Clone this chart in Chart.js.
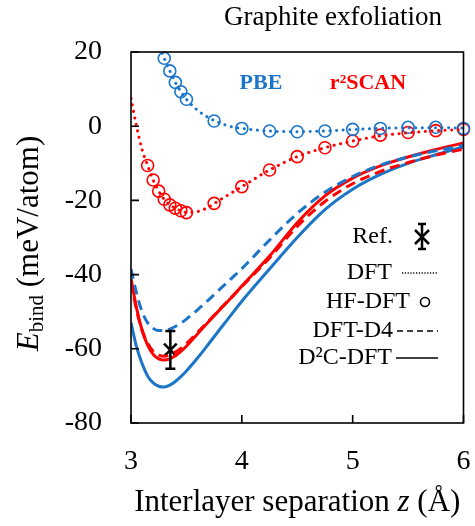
<!DOCTYPE html>
<html>
<head>
<meta charset="utf-8">
<script src="https://cdn.jsdelivr.net/npm/chart.js@4"></script>
<style>
  body { margin: 0; background: #fff; }
</style>
</head>
<body>
<canvas id="myChart" width="475" height="526"></canvas>
<script>
// interlayer separation z (Å) for the fitted curves
var zCurve = [3.0, 3.05, 3.1, 3.15, 3.2, 3.25, 3.3, 3.35, 3.4, 3.45, 3.5, 3.6, 3.7, 3.8, 3.9, 4.0, 4.25, 4.5, 4.75, 5.0, 5.25, 5.5, 5.75, 6.0];
// E_bind (meV/atom)
var pbeDFT  = [45, 40, 35, 30.5, 26.5, 22.2, 18.3, 14.9, 11.8, 9.3, 7.25, 4.3, 2.3, 0.9, -0.1, -0.6, -1.3, -1.5, -1.3, -0.9, -0.6, -0.4, -0.4, -0.5];
var scanDFT = [7.5, 0, -6.3, -10.6, -14.5, -17.5, -19.7, -21.2, -22.1, -22.8, -23.2, -23.0, -21.8, -19.9, -18.1, -16.3, -11.8, -8.2, -5.8, -4.0, -2.6, -1.8, -1.2, -0.9];
var pbeD4   = [-38.5, -45, -50, -53, -54.5, -55.1, -55.1, -54.7, -54, -53.1, -52, -49.5, -46.8, -44, -41.2, -38.4, -30.7, -23.5, -17.8, -13.6, -10.5, -8.3, -6.6, -5.2];
var scanD4  = [-42, -49.5, -55, -58.5, -60.7, -61.7, -62, -61.7, -60.9, -59.9, -58.6, -55.6, -52.5, -49.4, -46.3, -43.2, -35.5, -27, -20.3, -15.5, -12.2, -9.8, -7.8, -6.2];
var pbeD2C  = [-53, -59.5, -64, -67.3, -69.2, -70.1, -70.3, -69.8, -68.8, -67.5, -66, -62.5, -58.7, -54.8, -51, -47.2, -38.5, -30, -22.5, -17, -13, -10, -7.7, -5.6];
var scanD2C = [-41, -49, -55, -59, -61.5, -62.7, -63, -62.7, -61.9, -60.7, -59.3, -56, -52.7, -49.5, -46.4, -43.1, -35, -26, -18.8, -14, -10.7, -8.3, -6.3, -4.5];

// HF-DFT points (circles)
var zPbeHF  = [3.3, 3.35, 3.4, 3.45, 3.5, 3.75, 4.0, 4.25, 4.5, 4.75, 5.0, 5.25, 5.5, 5.75, 6.0];
var pbeHF   = [18.3, 14.9, 11.8, 9.3, 7.25, 1.4, -0.6, -1.3, -1.5, -1.3, -0.85, -0.6, -0.3, -0.3, -0.6];
var zScanHF = [3.15, 3.2, 3.25, 3.3, 3.35, 3.4, 3.45, 3.5, 3.75, 4.0, 4.25, 4.5, 4.75, 5.0, 5.25, 5.5, 5.75, 6.0];
var scanHF  = [-10.6, -14.5, -17.5, -19.7, -21.2, -22.1, -22.8, -23.3, -20.8, -16.3, -11.8, -8.2, -5.8, -4.0, -2.4, -1.7, -1.2, -0.85];

// reference value with error bar
var refZ = [3.355];
var refE = [-60.3];
var refErr = [5.1];

var xTicks = [3, 4, 5, 6];
var yTicks = [-80, -60, -40, -20, 0, 20];

var BLUE = '#1b75c9';
var RED = '#ff0000';
var SERIF = "'Liberation Serif', 'Times New Roman', serif";

function pts(xs, ys) {
    return xs.map(function (x, i) { return { x: x, y: ys[i] }; });
}

function lineSet(ys, color, dash) {
    return {
        data: pts(zCurve, ys),
        showLine: true,
        borderColor: color,
        borderWidth: 3,
        borderDash: dash,
        borderCapStyle: dash && dash[0] < 1 ? 'round' : 'butt',
        pointRadius: 0,
        cubicInterpolationMode: 'monotone',
        fill: false
    };
}

function circleSet(xs, ys, color) {
    return {
        data: pts(xs, ys),
        showLine: false,
        pointStyle: 'circle',
        pointRadius: 6,
        borderWidth: 1.6,
        borderColor: color,
        backgroundColor: 'rgba(0,0,0,0)',
        clip: false
    };
}

function text(ctx, str, x, y, font, color, align) {
    ctx.font = font;
    ctx.fillStyle = color || '#000';
    ctx.textAlign = align || 'left';
    ctx.textBaseline = 'middle';
    ctx.fillText(str, x, y);
}

function errBar(ctx, x, y1, y2, cap) {
    ctx.beginPath();
    ctx.moveTo(x, y1); ctx.lineTo(x, y2);
    ctx.moveTo(x - cap, y1); ctx.lineTo(x + cap, y1);
    ctx.moveTo(x - cap, y2); ctx.lineTo(x + cap, y2);
    ctx.stroke();
}

var decor = {
    id: 'decor',
    afterDatasetsDraw: function (chart) {
        var ctx = chart.ctx, a = chart.chartArea;
        var xs = chart.scales.x, ys = chart.scales.y;
        ctx.save();
        ctx.strokeStyle = '#000';
        ctx.lineWidth = 1.6;
        ctx.strokeRect(a.left, a.top, a.right - a.left, a.bottom - a.top);
        // inward ticks
        ctx.beginPath();
        xTicks.forEach(function (v) {
            var px = xs.getPixelForValue(v);
            ctx.moveTo(px, a.bottom); ctx.lineTo(px, a.bottom - 8);
        });
        yTicks.forEach(function (v) {
            var py = ys.getPixelForValue(v);
            ctx.moveTo(a.left, py); ctx.lineTo(a.left + 8, py);
        });
        ctx.stroke();

        // error bar of the reference
        ctx.lineWidth = 2.5;
        refZ.forEach(function (z, i) {
            errBar(ctx, xs.getPixelForValue(z), ys.getPixelForValue(refE[i] + refErr[i]),
                ys.getPixelForValue(refE[i] - refErr[i]), 5);
        });

        // functional labels
        text(ctx, 'PBE', 261, 83, "bold 22px " + SERIF, BLUE, 'center');
        text(ctx, 'r²SCAN', 368, 83, "bold 22px " + SERIF, RED, 'center');

        // legend
        var lf = "24px " + SERIF;
        text(ctx, 'Ref.', 393, 237, lf, '#000', 'right');
        ctx.strokeStyle = '#000';
        ctx.lineWidth = 2.5;
        errBar(ctx, 422, 224, 249, 4);
        ctx.beginPath();
        ctx.moveTo(415, 230); ctx.lineTo(429, 244);
        ctx.moveTo(429, 230); ctx.lineTo(415, 244);
        ctx.stroke();

        text(ctx, 'DFT', 392, 273, lf, '#000', 'right');
        ctx.lineWidth = 1.4;
        ctx.setLineDash([1.2, 1.6]);
        ctx.beginPath(); ctx.moveTo(402, 273); ctx.lineTo(438, 273); ctx.stroke();

        text(ctx, 'HF-DFT', 410, 302, lf, '#000', 'right');
        ctx.setLineDash([]);
        ctx.lineWidth = 1.6;
        ctx.beginPath(); ctx.arc(425, 302, 4.5, 0, Math.PI * 2); ctx.stroke();

        text(ctx, 'DFT-D4', 393, 331, lf, '#000', 'right');
        ctx.lineWidth = 1.5;
        ctx.setLineDash([6, 4]);
        ctx.beginPath(); ctx.moveTo(397, 331); ctx.lineTo(438, 331); ctx.stroke();

        text(ctx, 'D²C-DFT', 392, 358, lf, '#000', 'right');
        ctx.setLineDash([]);
        ctx.beginPath(); ctx.moveTo(396, 358); ctx.lineTo(438, 358); ctx.stroke();

        // title
        text(ctx, 'Graphite exfoliation', 333, 18, "27px " + SERIF, '#000', 'center');

        // x title with italic z
        var f1 = "31px " + SERIF, f2 = "italic 31px " + SERIF;
        ctx.font = f1;
        var w1 = ctx.measureText('Interlayer separation ').width;
        var w3 = ctx.measureText(' (Å)').width;
        ctx.font = f2;
        var w2 = ctx.measureText('z').width;
        var x0 = (a.left + a.right) / 2 - (w1 + w2 + w3) / 2;
        text(ctx, 'Interlayer separation ', x0, 503, f1);
        text(ctx, 'z', x0 + w1, 503, f2);
        text(ctx, ' (Å)', x0 + w1 + w2, 503, f1);

        // y title, rotated, E with subscript
        ctx.translate(30, (a.top + a.bottom) / 2 + 6);
        ctx.rotate(-Math.PI / 2);
        var fe = "italic 31px " + SERIF, fs = "21px " + SERIF, fr = "31px " + SERIF;
        ctx.font = fe; var we = ctx.measureText('E').width;
        ctx.font = fs; var wb = ctx.measureText('bind').width;
        ctx.font = fr; var wr = ctx.measureText(' (meV/atom)').width;
        var s = -(we + wb + wr) / 2;
        text(ctx, 'E', s, 0, fe);
        text(ctx, 'bind', s + we, 7, fs);
        text(ctx, ' (meV/atom)', s + we + wb, 0, fr);
        ctx.restore();
    }
};

var chart = new Chart(document.getElementById('myChart').getContext('2d'), {
    type: 'scatter',
    data: {
        datasets: [
            lineSet(pbeDFT, BLUE, [0.1, 6.5]),
            lineSet(scanDFT, RED, [0.1, 6.5]),
            circleSet(zPbeHF, pbeHF, BLUE),
            circleSet(zScanHF, scanHF, RED),
            lineSet(pbeD4, BLUE, [10, 6]),
            lineSet(scanD4, RED, [10, 6]),
            lineSet(pbeD2C, BLUE, []),
            lineSet(scanD2C, RED, []),
            {
                data: pts(refZ, refE),
                pointStyle: 'crossRot',
                pointRadius: 9,
                borderWidth: 2.5,
                borderColor: '#000',
                clip: false
            }
        ]
    },
    options: {
        responsive: false,
        animation: false,
        layout: { padding: { top: 52, right: 9, left: 0, bottom: 0 } },
        scales: {
            x: {
                type: 'linear',
                min: 3, max: 6,
                afterFit: function (s) { s.height = 103; s.paddingLeft = 0; s.paddingRight = 0; },
                afterBuildTicks: function (s) { s.ticks = xTicks.map(function (v) { return { value: v }; }); },
                grid: { display: false, drawTicks: false },
                border: { display: false },
                ticks: { padding: 22, color: '#000', font: { family: SERIF, size: 28 } }
            },
            y: {
                min: -80, max: 20,
                afterFit: function (s) { s.width = 131; s.paddingTop = 0; s.paddingBottom = 0; },
                afterBuildTicks: function (s) { s.ticks = yTicks.map(function (v) { return { value: v }; }); },
                grid: { display: false, drawTicks: false },
                border: { display: false },
                ticks: { padding: 29, color: '#000', font: { family: SERIF, size: 28 } }
            }
        },
        plugins: {
            legend: { display: false },
            tooltip: { enabled: false }
        }
    },
    plugins: [decor]
});
</script>
</body>
</html>
